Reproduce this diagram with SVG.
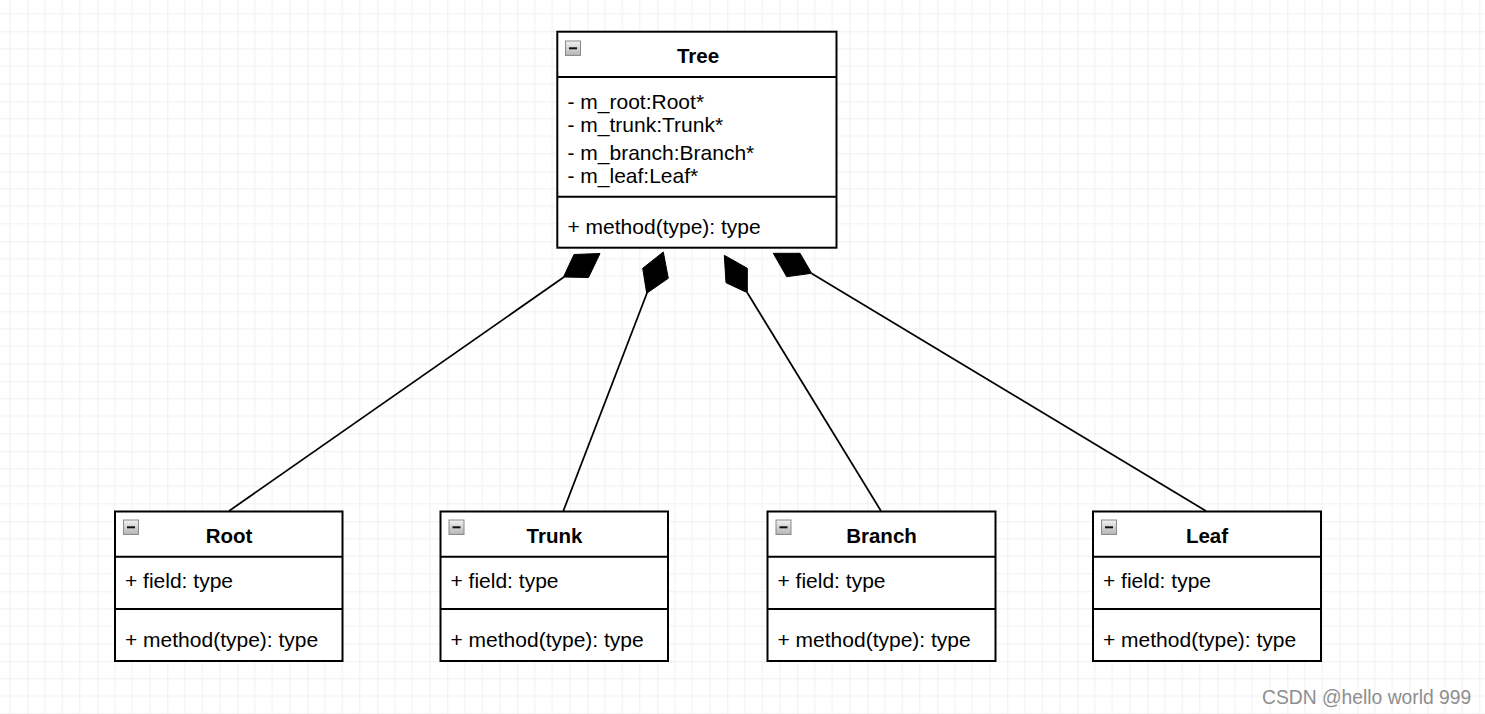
<svg xmlns="http://www.w3.org/2000/svg" width="1485" height="714" viewBox="0 0 1485 714">
  <defs>
    <pattern id="grid" x="27.3" y="31.3" width="70" height="70" patternUnits="userSpaceOnUse">
      <path d="M17.5 0V70M35 0V70M52.5 0V70M0 17.5H70M0 35H70M0 52.5H70" stroke="#f1f1f1" stroke-width="1" fill="none"/>
      <path d="M0 0V70M0 0H70" stroke="#e2e2e2" stroke-width="1" fill="none"/>
    </pattern>
    <linearGradient id="ig" x1="0" y1="0" x2="0" y2="1">
      <stop offset="0" stop-color="#f2f2f2"/>
      <stop offset="1" stop-color="#b4b4b4"/>
    </linearGradient>
    <g id="icon">
      <rect x="0.5" y="0.5" width="15" height="14.5" fill="url(#ig)" stroke="#8a8a8a" stroke-width="1"/>
      <rect x="4" y="6.8" width="8" height="2" fill="#111"/>
    </g>
  </defs>
  <style>
    .box { fill: #ffffff; stroke: #000000; stroke-width: 2; }
    .div { stroke: #000000; stroke-width: 2; fill: none; }
    .title { font-family: "Liberation Sans", Arial, sans-serif; font-size: 20.5px; font-weight: bold; fill: #000; text-anchor: middle; }
    .t { font-family: "Liberation Sans", Arial, sans-serif; font-size: 21px; fill: #000; }
    .edge { stroke: #000; stroke-width: 1.75; fill: none; }
    .dia { fill: #000; stroke: #000; stroke-width: 1; stroke-linejoin: miter; }
    .wm { font-family: "Liberation Sans", Arial, sans-serif; font-size: 19.3px; fill: #8e8e8e; }
  </style>

  <rect x="0" y="0" width="1485" height="714" fill="#ffffff"/>
  <rect x="0" y="0" width="1485" height="714" fill="url(#grid)"/>

  <g id="connectors">
    <line class="edge" x1="229" y1="511" x2="564" y2="277"/>
    <polygon class="dia" points="563.5,277 574,254.5 600,253.5 588.5,277.5"/>
    <line class="edge" x1="563.3" y1="511" x2="647" y2="293"/>
    <polygon class="dia" points="663.3,252 642.7,268.3 646.7,293.3 668.3,278.3"/>
    <line class="edge" x1="881" y1="511" x2="747.3" y2="292.7"/>
    <polygon class="dia" points="724.3,255.3 747.3,268.3 747.3,292.7 726,282.7"/>
    <line class="edge" x1="1206" y1="511" x2="811.7" y2="273.5"/>
    <polygon class="dia" points="773.3,253.3 800,253.3 811.7,273.3 786.7,276.7"/>
  </g>

  <g id="tree">
    <rect class="box" x="557.3" y="31.7" width="279.2" height="216"/>
    <line class="div" x1="557.3" y1="77" x2="836.5" y2="77"/>
    <line class="div" x1="557.3" y1="196.7" x2="836.5" y2="196.7"/>
    <use href="#icon" x="565" y="40.5"/>
    <text class="title" x="698" y="62.5">Tree</text>
    <text class="t" x="567.5" y="108.5">- m_root:Root*</text>
    <text class="t" x="567.5" y="132">- m_trunk:Trunk*</text>
    <text class="t" x="567.5" y="159.5">- m_branch:Branch*</text>
    <text class="t" x="567.5" y="182.5">- m_leaf:Leaf*</text>
    <text class="t" x="567.5" y="234.3">+ method(type): type</text>
  </g>

  <g id="root">
    <rect class="box" x="115" y="511.5" width="227.5" height="149.5"/>
    <line class="div" x1="115" y1="556.7" x2="342.5" y2="556.7"/>
    <line class="div" x1="115" y1="609" x2="342.5" y2="609"/>
    <use href="#icon" x="123" y="519.5"/>
    <text class="title" x="229" y="542.5">Root</text>
    <text class="t" x="125" y="588">+ field: type</text>
    <text class="t" x="125" y="647">+ method(type): type</text>
  </g>

  <g id="trunk">
    <rect class="box" x="440.5" y="511.5" width="227.5" height="149.5"/>
    <line class="div" x1="440.5" y1="556.7" x2="668" y2="556.7"/>
    <line class="div" x1="440.5" y1="609" x2="668" y2="609"/>
    <use href="#icon" x="448.5" y="519.5"/>
    <text class="title" x="554.5" y="542.5">Trunk</text>
    <text class="t" x="450.5" y="588">+ field: type</text>
    <text class="t" x="450.5" y="647">+ method(type): type</text>
  </g>

  <g id="branch">
    <rect class="box" x="767.5" y="511.5" width="228" height="149.5"/>
    <line class="div" x1="767.5" y1="556.7" x2="995.5" y2="556.7"/>
    <line class="div" x1="767.5" y1="609" x2="995.5" y2="609"/>
    <use href="#icon" x="775.5" y="519.5"/>
    <text class="title" x="881.5" y="542.5">Branch</text>
    <text class="t" x="777.5" y="588">+ field: type</text>
    <text class="t" x="777.5" y="647">+ method(type): type</text>
  </g>

  <g id="leaf">
    <rect class="box" x="1093" y="511.5" width="228" height="149.5"/>
    <line class="div" x1="1093" y1="556.7" x2="1321" y2="556.7"/>
    <line class="div" x1="1093" y1="609" x2="1321" y2="609"/>
    <use href="#icon" x="1101" y="519.5"/>
    <text class="title" x="1207" y="542.5">Leaf</text>
    <text class="t" x="1103" y="588">+ field: type</text>
    <text class="t" x="1103" y="647">+ method(type): type</text>
  </g>

  <text class="wm" x="1262" y="704">CSDN @hello world 999</text>
</svg>
